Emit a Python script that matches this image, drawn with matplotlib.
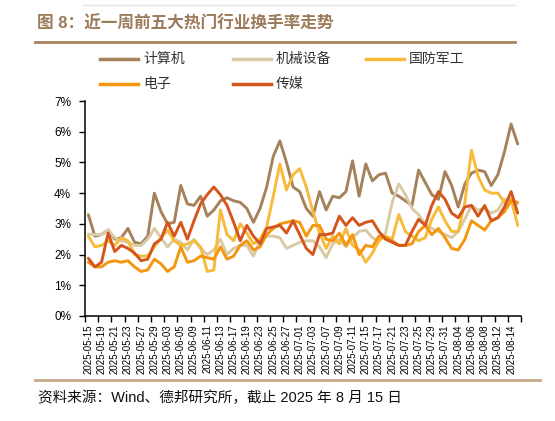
import numpy as np
import matplotlib.pyplot as plt
from matplotlib.lines import Line2D

plt.rcParams['font.family'] = ['Liberation Sans', 'Noto Sans CJK SC']

dates = ['2025-05-15', '2025-05-16', '2025-05-19', '2025-05-20', '2025-05-21', '2025-05-22',
         '2025-05-23', '2025-05-26', '2025-05-27', '2025-05-28', '2025-05-29', '2025-05-30',
         '2025-06-03', '2025-06-04', '2025-06-05', '2025-06-06', '2025-06-09', '2025-06-10',
         '2025-06-11', '2025-06-12', '2025-06-13', '2025-06-16', '2025-06-17', '2025-06-18',
         '2025-06-19', '2025-06-20', '2025-06-23', '2025-06-24', '2025-06-25', '2025-06-26',
         '2025-06-27', '2025-06-30', '2025-07-01', '2025-07-02', '2025-07-03', '2025-07-04',
         '2025-07-07', '2025-07-08', '2025-07-09', '2025-07-10', '2025-07-11', '2025-07-14',
         '2025-07-15', '2025-07-16', '2025-07-17', '2025-07-18', '2025-07-21', '2025-07-22',
         '2025-07-23', '2025-07-24', '2025-07-25', '2025-07-28', '2025-07-29', '2025-07-30',
         '2025-07-31', '2025-08-01', '2025-08-04', '2025-08-05', '2025-08-06', '2025-08-07',
         '2025-08-08', '2025-08-11', '2025-08-12', '2025-08-13', '2025-08-14', '2025-08-15']

names = ['计算机', '机械设备', '国防军工', '电子', '传媒']

# 换手率 (%)
jisuanji = [3.3, 2.6, 2.65, 2.8, 2.5, 2.55, 2.85, 2.4, 2.35, 2.6,
            4.0, 3.4, 3.0, 3.05, 4.25, 3.65, 3.6, 3.9, 3.25, 3.45,
            3.75, 3.85, 3.75, 3.7, 3.5, 3.05, 3.5, 4.2, 5.2, 5.7,
            5.0, 4.2, 4.05, 3.5, 3.25, 4.05, 3.45, 3.9, 3.85, 4.05,
            5.05, 3.9, 4.95, 4.4, 4.6, 4.65, 4.0, 3.9, 3.75, 3.6,
            4.75, 4.35, 3.95, 3.8, 4.7, 4.25, 3.55, 4.3, 4.65, 4.75,
            4.7, 4.25, 4.6, 5.35, 6.25, 5.6]
jixie = [2.67, 2.65, 2.65, 2.8, 2.55, 2.45, 2.4, 2.3, 2.3, 2.5,
         2.85, 2.55, 2.25, 2.5, 2.4, 2.15, 2.5, 2.2, 2.0, 2.15,
         2.5, 2.0, 2.2, 2.3, 2.3, 1.95, 2.45, 2.6, 2.6, 2.55,
         2.2, 2.3, 2.4, 2.45, 2.45, 2.25, 1.9, 2.35, 2.5, 2.25,
         2.55, 2.75, 2.8, 2.55, 2.45, 2.7, 3.7, 4.3, 3.95, 3.5,
         3.3, 3.0, 2.85, 2.75, 2.65, 2.55, 2.75, 3.15, 3.6, 3.45,
         3.5, 3.35, 3.45, 3.8, 3.8, 3.65]
guofang = [2.6, 2.25, 2.3, 2.45, 2.3, 2.55, 2.45, 2.0, 1.95, 1.95,
           2.25, 2.55, 2.8, 2.45, 2.3, 2.35, 2.45, 2.25, 1.45, 1.5,
           3.45, 2.65, 2.45, 3.0, 2.7, 2.35, 2.5, 2.9, 3.9, 4.95,
           4.1, 4.6, 4.8, 4.2, 3.4, 2.7, 2.2, 2.6, 2.35, 2.85,
           2.3, 2.15, 1.75, 2.05, 2.45, 2.6, 2.5, 3.3, 2.75, 2.6,
           2.45, 2.55, 3.15, 3.55, 3.1, 2.75, 2.75, 3.7, 5.4, 4.55,
           4.1, 4.0, 4.0, 3.7, 3.8, 2.95]
dianzi = [1.75, 1.6, 1.6, 1.75, 1.8, 1.75, 1.8, 1.6, 1.45, 1.5,
          1.85, 1.7, 1.45, 1.6, 2.25, 1.75, 1.8, 1.95, 1.9, 1.85,
          2.25, 1.85, 1.95, 2.3, 2.45, 2.15, 2.25, 2.65, 2.85, 3.0,
          3.05, 3.1, 3.05, 2.6, 2.95, 2.95, 2.5, 2.45, 2.7, 2.3,
          2.65, 2.0, 2.3, 2.25, 2.6, 2.55, 2.45, 2.3, 2.3, 2.35,
          2.75, 2.95, 2.65, 2.85, 2.55, 2.2, 2.15, 2.5, 3.1, 2.95,
          2.8, 3.1, 3.2, 3.4, 3.75, 3.7]
chuanmei = [1.88, 1.6, 1.75, 2.7, 2.1, 2.3, 2.2, 2.05, 1.8, 1.85,
            2.35, 2.5, 3.05, 2.6, 3.05, 2.5, 3.1, 3.65, 3.95, 4.2,
            3.95, 3.6, 3.05, 2.45, 2.95, 2.6, 2.35, 2.85, 2.9, 2.95,
            2.7, 3.1, 2.65, 2.2, 2.0, 2.65, 2.65, 2.7, 3.25, 2.95,
            3.2, 2.95, 3.05, 3.1, 2.75, 2.5, 2.4, 2.3, 2.3, 2.75,
            3.15, 2.95, 3.6, 4.05, 3.8, 3.35, 3.2, 3.55, 3.6, 3.25,
            3.6, 3.1, 3.2, 3.55, 4.05, 3.35]

colors = ['#A5825B', '#D9CAA6', '#F7BA3A', '#F5960F', '#D4561C']

W, H = 555, 421
fig = plt.figure(figsize=(W / 100, H / 100), dpi=100)
ax = fig.add_axes([85 / W, 1 - 316 / H, 436 / W, 215 / H])

x = np.arange(len(dates))
for vals, c in zip([jisuanji, jixie, guofang, dianzi, chuanmei], colors):
    ax.plot(x, vals, color=c, lw=2.1, solid_joinstyle='round', solid_capstyle='round')

ax.set_xlim(-0.5, len(dates) - 0.5)
ax.set_ylim(0, 7)
ax.set_yticks(range(8))
ax.set_yticklabels([f'{i}%' for i in range(8)])
ax.set_xticks(x[::2])
ax.set_xticklabels(dates[::2], rotation=90, fontsize=7)
ax.set_xticks(np.arange(-0.5, len(dates), 2), minor=True)
ax.tick_params(axis='x', which='major', length=0, pad=6)
ax.tick_params(axis='x', which='minor', length=4, width=1)
ax.tick_params(axis='y', length=4, width=1, labelsize=8.5, pad=6)
for s in ['top', 'right']:
    ax.spines[s].set_visible(False)
for s in ['left', 'bottom']:
    ax.spines[s].set_linewidth(1.1)

# title and frame lines
fig.text(37 / W, 1 - 23 / H, '图 8：近一周前五大热门行业换手率走势', color='#9C7B5A',
         fontsize=12, fontweight='bold', va='center', ha='left')
fig.add_artist(Line2D([83 / W, 515 / W], [1 - 5 / H] * 2, color='#ECE3D8', lw=1))
fig.add_artist(Line2D([35 / W, 515 / W], [1 - 42 / H] * 2, color='#A8845E', lw=2))
fig.add_artist(Line2D([35 / W, 540 / W], [1 - 380 / H] * 2, color='#C8AA8A', lw=2))

# legend
leg_pos = [(100, 59), (233, 59), (366, 59), (100, 84), (233, 84)]
for name, c, (lx, ly) in zip(names, colors, leg_pos):
    fig.add_artist(Line2D([lx / W, (lx + 38) / W], [1 - ly / H] * 2, color=c, lw=2.5))
    fig.text((lx + 43) / W, 1 - ly / H, name, fontsize=10, va='center', ha='left', color='#333333')

fig.text(38 / W, 1 - 398 / H, '资料来源：Wind、德邦研究所，截止 2025 年 8 月 15 日',
         fontsize=10.5, va='center', ha='left', color='#111111')

fig.savefig('out.png', dpi=100)
